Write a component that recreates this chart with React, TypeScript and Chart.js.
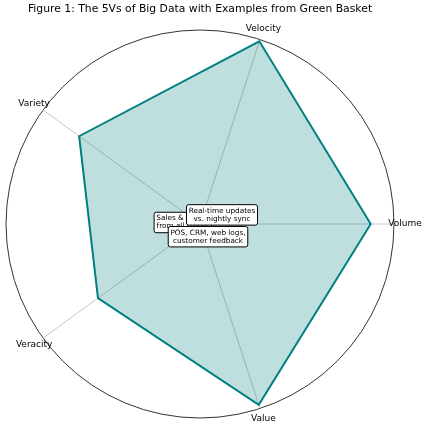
import React, { useEffect, useRef } from 'react';
import { Chart, registerables } from 'chart.js';

Chart.register(...registerables);

const TITLE = 'Figure 1: The 5Vs of Big Data with Examples from Green Basket';
const categories = ['Volume', 'Velocity', 'Variety', 'Veracity', 'Value'];
const scores = [8.8, 9.9, 7.7, 6.5, 9.8];
const scaleMax = 10;

const noteTexts = [
  ['Sales & orders', 'from all stores'],
  ['Real-time updates', 'vs. nightly sync'],
  ['POS, CRM, web logs,', 'customer feedback'],
];
// anchor offsets (px) of each note box centre from the radar centre
const noteOffsets = [
  [-17.2, -1.5],
  [22, -9.1],
  [8, 12.7],
];

// Chart.js goes clockwise from the start angle; the reference goes counter-clockwise
const order = [0, 4, 3, 2, 1];
const chartLabels = order.map((i) => categories[i]);
const chartValues = order.map((i) => scores[i]);

const FONT = '"DejaVu Sans", sans-serif';

const overlayPlugin = {
  id: 'overlay',
  afterDatasetsDraw(chart: any) {
    const scale = chart.scales.r;
    const ctx = chart.ctx;
    ctx.save();
    ctx.fillStyle = '#000';
    ctx.textAlign = 'center';
    ctx.textBaseline = 'middle';
    ctx.font = `9px ${FONT}`;
    chartLabels.forEach((lab, i) => {
      const p = scale.getPointPosition(i, scale.drawingArea + 11);
      ctx.fillText(lab, p.x, p.y);
    });

    const fs = 7.3;
    const pad = 0.3 * fs;
    const lh = 1.1 * fs;
    ctx.font = `${fs}px ${FONT}`;
    noteTexts.forEach((lines, k) => {
      const cx = scale.xCenter + noteOffsets[k][0];
      const cy = scale.yCenter + noteOffsets[k][1];
      const tw = Math.max(...lines.map((l) => ctx.measureText(l).width));
      const w = tw + 2 * pad;
      const h = lines.length * lh + 2 * pad;
      const x = cx - w / 2;
      const y = cy - h / 2;
      ctx.beginPath();
      ctx.roundRect(x, y, w, h, pad);
      ctx.fillStyle = '#fff';
      ctx.fill();
      ctx.lineWidth = 1;
      ctx.strokeStyle = '#000';
      ctx.stroke();
      ctx.fillStyle = '#000';
      lines.forEach((l, j) => {
        ctx.fillText(l, cx, y + pad + lh * (j + 0.5));
      });
    });
    ctx.restore();
  },
};

export default function App() {
  const ref = useRef<HTMLCanvasElement>(null);
  useEffect(() => {
    if (!ref.current) return;
    Chart.defaults.font.family = FONT;
    const chart = new Chart(ref.current, {
      type: 'radar',
      data: {
        labels: chartLabels,
        datasets: [
          {
            data: chartValues,
            borderColor: '#008080',
            backgroundColor: 'rgba(0,128,128,0.25)',
            borderWidth: 2,
            pointRadius: 0,
            fill: true,
            tension: 0,
          },
        ],
      },
      options: {
        responsive: false,
        animation: false,
        layout: { padding: { left: 5, right: 34, top: 0, bottom: 12 } },
        plugins: {
          legend: { display: false },
          tooltip: { enabled: false },
          title: {
            display: true,
            text: TITLE,
            color: '#000',
            font: { family: FONT, size: 10.8, weight: 'normal', lineHeight: 1.2 },
            padding: { top: 2.5, bottom: 14 },
          },
        },
        scales: {
          r: {
            min: 0,
            max: scaleMax,
            startAngle: 90,
            ticks: { display: false, stepSize: scaleMax },
            pointLabels: { display: false },
            grid: { circular: true, color: '#000', lineWidth: 0.8 },
            angleLines: { display: true, color: '#b8b8b8', lineWidth: 0.8 },
          },
        },
      },
      plugins: [overlayPlugin],
    });
    return () => chart.destroy();
  }, []);
  return (
    <div style={{ position: 'fixed', left: 0, top: 0, width: 429, height: 431, background: '#fff' }}>
      <canvas ref={ref} width={429} height={431} style={{ display: 'block' }} />
    </div>
  );
}
